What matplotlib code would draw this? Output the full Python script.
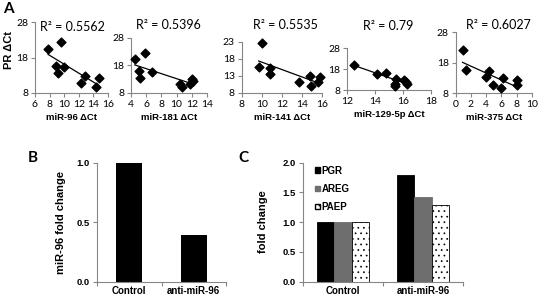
import numpy as np
import matplotlib
matplotlib.use('Agg')
import matplotlib.pyplot as plt
from matplotlib.patches import Patch

# ── Data ──────────────────────────────────────────────────────────────────────
mir96_x = [7.8, 9.6, 8.9, 9.1, 10.0, 12.3, 12.8, 14.3, 14.7]
mir96_y = [20.4, 22.4, 15.7, 13.5, 15.4, 10.8, 12.9, 9.6, 12.3]
mir181_x = [4.5, 5.9, 5.0, 5.2, 6.7, 10.5, 10.7, 11.8, 12.0, 12.2]
mir181_y = [20.2, 22.3, 15.8, 13.4, 15.6, 11.0, 10.2, 11.2, 13.0, 12.4]
mir141_x = [10.0, 9.7, 10.8, 10.8, 13.7, 14.8, 14.9, 15.6, 15.8]
mir141_y = [22.5, 15.6, 15.4, 13.4, 11.2, 12.9, 10.0, 11.2, 12.5]
mir129_x = [12.5, 14.1, 14.8, 15.5, 15.4, 15.4, 16.1, 16.2, 16.3]
mir129_y = [20.2, 15.7, 16.0, 13.5, 11.0, 9.8, 12.8, 12.0, 11.0]
mir375_x = [0.9, 1.3, 4.0, 4.3, 4.9, 6.0, 6.2, 8.0, 8.0]
mir375_y = [22.2, 15.5, 13.2, 15.3, 10.8, 9.8, 13.0, 12.5, 10.7]

r2_labels = ['0.5562', '0.5396', '0.5535', '0.79', '0.6027']
scatter_xlabels = ['miR-96 ΔCt', 'miR-181 ΔCt', 'miR-141 ΔCt',
                   'miR-129-5p ΔCt', 'miR-375 ΔCt']

groups = ['Control', 'anti-miR-96']
mir96_fold = [1.0, 0.39]
genes = ['PGR', 'AREG', 'PAEP']
gene_fold = {'PGR': [1.0, 1.8], 'AREG': [1.0, 1.42], 'PAEP': [1.0, 1.29]}

# ── Style ─────────────────────────────────────────────────────────────────────
GRAY = '#868686'
CAL = ['Lato', 'DejaVu Sans']
ARIAL = ['Liberation Sans', 'DejaVu Sans']
plt.rcParams['hatch.linewidth'] = 0.5

fig = plt.figure(figsize=(5.5, 2.97), dpi=100, facecolor='white')

def frac(l, r, t, b):
    return [l / 550, 1 - b / 297, (r - l) / 550, (b - t) / 297]

scatter_specs = [
    (frac(35, 108, 22, 93),     mir96_x,  mir96_y,  (6, 16),  np.arange(6, 17, 2),  (8, 28), [8, 18, 28],      (72, 27)),
    (frac(131, 207, 37.7, 92.7), mir181_x, mir181_y, (4, 14),  np.arange(4, 15, 2),  (8, 28), [8, 18, 28],      (168, 25)),
    (frac(241.7, 321.7, 41.7, 92.7), mir141_x, mir141_y, (8, 16), np.arange(8, 17, 2), (8, 23), [8, 13, 18, 23], (285, 25)),
    (frac(347.3, 431, 48.3, 90), mir129_x, mir129_y, (12, 18), np.arange(12, 19, 2), (8, 28), [8, 18, 28],      (388, 26)),
    (frac(455.7, 532, 32.3, 93.3), mir375_x, mir375_y, (0, 10), np.arange(0, 11, 2), (8, 28), [8, 18, 28],      (498, 25)),
]

for i, (pos, xs, ys, xl, xt, yl, yt, r2pos) in enumerate(scatter_specs):
    ax = fig.add_axes(pos)
    ax.scatter(xs, ys, marker='D', s=20, color='black', zorder=3, clip_on=False)
    k, c = np.polyfit(xs, ys, 1)
    xx = np.array([min(xs), max(xs)])
    ax.plot(xx, k * xx + c, color='black', lw=0.9)
    ax.set_xlim(*xl); ax.set_ylim(*yl)
    ax.set_xticks(xt); ax.set_yticks(yt)
    ax.spines[['top', 'right']].set_visible(False)
    for sp in ['left', 'bottom']:
        ax.spines[sp].set_color(GRAY)
    ax.tick_params(direction='out', length=3, color=GRAY, width=0.8,
                   labelsize=7.5, pad=2)
    for lab in ax.get_xticklabels() + ax.get_yticklabels():
        lab.set_family(CAL)
    ax.set_xlabel(scatter_xlabels[i], fontsize=6.8, fontweight='bold',
                  family=ARIAL, labelpad=3)
    fig.text(r2pos[0] / 550, 1 - r2pos[1] / 297, f'R² = {r2_labels[i]}',
             ha='center', va='center', fontsize=9, family=CAL)

fig.text(9 / 550, 1 - 50 / 297, 'PR ΔCt', rotation=90, ha='center', va='center',
         fontsize=8, fontweight='bold', family=ARIAL)
fig.text(3 / 550, 1 - 9 / 297, 'A', fontsize=11, fontweight='bold', family=CAL,
         va='center')
fig.text(33 / 550, 1 - 158 / 297, 'B', fontsize=11, fontweight='bold', family=CAL,
         va='center', ha='center')
fig.text(243 / 550, 1 - 158 / 297, 'C', fontsize=11, fontweight='bold', family=CAL,
         va='center', ha='center')

def style_bar(ax, ylabel):
    ax.set_xlim(-0.5, 1.5)
    ax.set_xticks([-0.5, 0.5, 1.5])
    ax.set_xticklabels([])
    ax.set_xticks([0, 1], minor=True)
    ax.set_xticklabels(groups, minor=True, fontsize=7, fontweight='bold',
                       family=ARIAL)
    ax.tick_params(axis='x', which='minor', length=0, pad=3.5)
    ax.tick_params(axis='x', which='major', length=3, color=GRAY, direction='out')
    ax.tick_params(axis='y', length=3, color=GRAY, direction='out', labelsize=6.8, pad=2)
    for lab in ax.get_yticklabels():
        lab.set_fontweight('bold'); lab.set_family(ARIAL)
    ax.spines[['top', 'right']].set_visible(False)
    for sp in ['left', 'bottom']:
        ax.spines[sp].set_color(GRAY)
    ax.set_ylabel(ylabel, fontsize=8, fontweight='bold', family=ARIAL)

# ── B ─────────────────────────────────────────────────────────────────────────
axb = fig.add_axes(frac(97, 226, 162.7, 281.5))
axb.bar([0, 1], mir96_fold, width=0.4, color='black')
axb.set_ylim(0, 1.0)
axb.set_yticks([0, 0.5, 1.0])
axb.set_yticklabels(['0.0', '0.5', '1.0'])
style_bar(axb, 'miR-96 fold change')
axb.yaxis.set_label_coords(-0.24, 0.5)

# ── C ─────────────────────────────────────────────────────────────────────────
axc = fig.add_axes(frac(303, 463, 162.7, 281.5))
w = 0.214
x = np.arange(len(groups))
styles = {'PGR': dict(color='black', edgecolor='black'),
          'AREG': dict(color='#6e6e6e', edgecolor='#6e6e6e'),
          'PAEP': dict(facecolor='white', edgecolor='black', hatch='...')}
for j, g in enumerate(genes):
    axc.bar(x + (j - 1) * w, gene_fold[g], width=w, linewidth=0.6, **styles[g])
axc.set_ylim(0, 2.0)
axc.set_yticks([0, 0.5, 1.0, 1.5, 2.0])
axc.set_yticklabels(['0.0', '0.5', '1.0', '1.5', '2.0'])
style_bar(axc, 'fold change')
axc.yaxis.set_label_coords(-0.22, 0.5)
handles = [Patch(facecolor='black', edgecolor='black', label='PGR'),
           Patch(facecolor='#6e6e6e', edgecolor='#6e6e6e', label='AREG'),
           Patch(facecolor='white', edgecolor='black', hatch='...', label='PAEP')]
leg = axc.legend(handles=handles, loc='upper left', bbox_to_anchor=(0.02, 1.05),
                 frameon=False, handlelength=0.5, handleheight=0.5,
                 handletextpad=0.2, labelspacing=0.85,
                 prop=dict(size=7, weight='bold', family=ARIAL))

plt.savefig('out.png', dpi=100, facecolor='white')
